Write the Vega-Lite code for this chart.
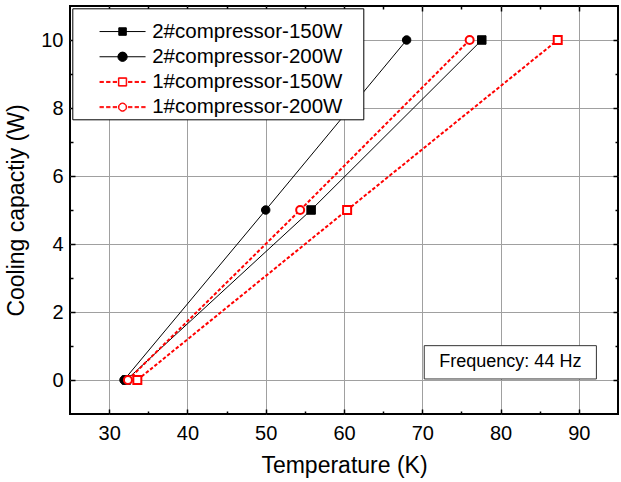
{
  "$schema": "https://vega.github.io/schema/vega-lite/v6.json",
  "width": 548,
  "height": 408,
  "autosize": {"type": "none"},
  "padding": {"left": 70, "top": 6, "right": 3, "bottom": 68},
  "config": {
    "font": "Liberation Sans",
    "view": {"stroke": "black", "strokeWidth": 2},
    "axis": {
      "labelFont": "Liberation Sans",
      "labelFontSize": 20,
      "labelColor": "black",
      "titleFont": "Liberation Sans",
      "titleFontSize": 23,
      "titleFontWeight": "normal",
      "titleColor": "black",
      "tickColor": "black",
      "tickWidth": 1.5,
      "domain": false,
      "gridColor": "#a0a0a0",
      "gridWidth": 1
    }
  },
  "datasets": {
    "pts": [
      {"series": "2#compressor-150W", "T": 32.2, "Q": 0},
      {"series": "2#compressor-150W", "T": 55.8, "Q": 5},
      {"series": "2#compressor-150W", "T": 77.6, "Q": 10},
      {"series": "2#compressor-200W", "T": 31.9, "Q": 0},
      {"series": "2#compressor-200W", "T": 50.0, "Q": 5},
      {"series": "2#compressor-200W", "T": 68.0, "Q": 10},
      {"series": "1#compressor-150W", "T": 33.6, "Q": 0},
      {"series": "1#compressor-150W", "T": 60.4, "Q": 5},
      {"series": "1#compressor-150W", "T": 87.3, "Q": 10},
      {"series": "1#compressor-200W", "T": 32.4, "Q": 0},
      {"series": "1#compressor-200W", "T": 54.4, "Q": 5},
      {"series": "1#compressor-200W", "T": 76.05, "Q": 10}
    ]
  },
  "data": {"name": "pts"},
  "layer": [
    {
      "transform": [{"filter": "indexof(datum.series, '2#') === 0"}],
      "mark": {"type": "line", "stroke": "black", "strokeWidth": 1},
      "encoding": {
        "x": {
          "field": "T", "type": "quantitative",
          "scale": {"domain": [25, 95], "nice": false, "zero": false},
          "axis": {
            "title": "Temperature (K)",
            "values": [30, 35, 40, 45, 50, 55, 60, 65, 70, 75, 80, 85, 90],
            "labelExpr": "datum.value % 10 === 0 ? datum.label : ''",
            "tickSize": {"condition": {"test": "datum.value % 10 === 0", "value": -5}, "value": -3},
            "grid": true,
            "gridOpacity": {"condition": {"test": "datum.value % 10 === 0", "value": 1}, "value": 0},
            "labelPadding": 14,
            "titlePadding": 11
          }
        },
        "y": {
          "field": "Q", "type": "quantitative",
          "scale": {"domain": [-1, 11], "nice": false, "zero": false},
          "axis": {
            "title": "Cooling capactiy (W)",
            "values": [0, 1, 2, 3, 4, 5, 6, 7, 8, 9, 10],
            "labelExpr": "datum.value % 2 === 0 ? datum.label : ''",
            "tickSize": {"condition": {"test": "datum.value % 2 === 0", "value": -5}, "value": -3},
            "grid": true,
            "gridOpacity": {"condition": {"test": "datum.value % 2 === 0", "value": 1}, "value": 0},
            "labelPadding": 12,
            "titlePadding": 12
          }
        },
        "detail": {"field": "series"}
      }
    },
    {
      "transform": [{"filter": "indexof(datum.series, '1#') === 0"}],
      "mark": {"type": "line", "stroke": "#ff0000", "strokeWidth": 2, "strokeDash": [3.5, 2]},
      "encoding": {
        "x": {"field": "T", "type": "quantitative", "axis": null},
        "y": {"field": "Q", "type": "quantitative", "axis": null},
        "detail": {"field": "series"}
      }
    },
    {
      "transform": [{"filter": "indexof(datum.series, '2#') === 0"}],
      "mark": {"type": "point", "filled": false, "size": 72, "opacity": 1, "fill": "black", "stroke": "black", "strokeWidth": 1},
      "encoding": {
        "x": {"field": "T", "type": "quantitative", "axis": null},
        "y": {"field": "Q", "type": "quantitative", "axis": null},
        "shape": {
          "field": "series", "type": "nominal", "legend": null,
          "scale": {"domain": ["2#compressor-150W", "2#compressor-200W", "1#compressor-150W", "1#compressor-200W"], "range": ["square", "circle", "square", "circle"]}
        }
      }
    },
    {
      "transform": [{"filter": "indexof(datum.series, '1#') === 0"}],
      "mark": {"type": "point", "filled": false, "size": 64, "opacity": 1, "fill": "white", "stroke": "#ff0000", "strokeWidth": 2},
      "encoding": {
        "x": {"field": "T", "type": "quantitative", "axis": null},
        "y": {"field": "Q", "type": "quantitative", "axis": null},
        "shape": {
          "field": "series", "type": "nominal", "legend": null,
          "scale": {"domain": ["2#compressor-150W", "2#compressor-200W", "1#compressor-150W", "1#compressor-200W"], "range": ["square", "circle", "square", "circle"]}
        }
      }
    },
    {
      "data": {"values": [{"label": "Frequency: 44 Hz"}]},
      "mark": {"type": "rect", "fill": "white", "stroke": "#333333", "strokeWidth": 1},
      "encoding": {
        "x": {"datum": 70.25, "type": "quantitative", "axis": null},
        "x2": {"datum": 92.24},
        "y": {"datum": 0.03, "type": "quantitative", "axis": null},
        "y2": {"datum": 1.01}
      }
    },
    {
      "data": {"values": [{"label": "Frequency: 44 Hz"}]},
      "mark": {"type": "text", "font": "Liberation Sans", "fontSize": 18, "color": "black", "align": "center", "baseline": "middle"},
      "encoding": {
        "x": {"datum": 81.25, "type": "quantitative", "axis": null},
        "y": {"datum": 0.52, "type": "quantitative", "axis": null},
        "text": {"field": "label"}
      }
    },
    {
      "transform": [{"filter": "false"}],
      "mark": {"type": "point", "filled": false, "opacity": 1},
      "encoding": {
        "x": {
          "field": "T", "type": "quantitative",
          "axis": {
            "orient": "top", "title": null, "labels": false, "grid": false,
            "values": [30, 35, 40, 45, 50, 55, 60, 65, 70, 75, 80, 85, 90],
            "tickSize": {"condition": {"test": "datum.value % 10 === 0", "value": -5}, "value": -3}
          }
        },
        "y": {
          "field": "Q", "type": "quantitative",
          "axis": {
            "orient": "right", "title": null, "labels": false, "grid": false,
            "values": [0, 1, 2, 3, 4, 5, 6, 7, 8, 9, 10],
            "tickSize": {"condition": {"test": "datum.value % 2 === 0", "value": -5}, "value": -3}
          }
        },
        "shape": {
          "field": "series", "type": "nominal",
          "scale": {
            "domain": ["2#compressor-150W", "2#compressor-200W", "1#compressor-150W", "1#compressor-200W"],
            "range": [
              "M47.45,0L47.45,0M-4.6,0H4.6M-0.75,-0.75H0.75V0.75H-0.75Z",
              "M-4.6,0H4.6M-0.93,0A0.93,0.93 0 1,0 0.93,0A0.93,0.93 0 1,0 -0.93,0Z",
              "M-4.6,-0.1H-3.74M-4.6,0.1H-3.74M-3.28,-0.1H-2.42M-3.28,0.1H-2.42M-1.96,-0.1H-1.1M-1.96,0.1H-1.1M1.1,-0.1H1.96M1.1,0.1H1.96M2.42,-0.1H3.28M2.42,0.1H3.28M3.74,-0.1H4.6M3.74,0.1H4.6M-0.83,-0.83H0.83V0.83H-0.83ZM-0.73,-0.73H0.73V0.73H-0.73Z",
              "M-4.6,-0.1H-3.74M-4.6,0.1H-3.74M-3.28,-0.1H-2.42M-3.28,0.1H-2.42M-1.96,-0.1H-1.1M-1.96,0.1H-1.1M1.1,-0.1H1.96M1.1,0.1H1.96M2.42,-0.1H3.28M2.42,0.1H3.28M3.74,-0.1H4.6M3.74,0.1H4.6M-0.83,0A0.83,0.83 0 1,0 0.83,0A0.83,0.83 0 1,0 -0.83,0ZM-0.73,0A0.73,0.73 0 1,0 0.73,0A0.73,0.73 0 1,0 -0.73,0Z"
            ]
          },
          "legend": {
            "title": " ",
            "titleFontSize": 8,
            "titlePadding": 4,
            "orient": "none",
            "legendX": 2.3,
            "legendY": 2.3,
            "padding": 1,
            "rowPadding": 4.2,
            "strokeColor": "black",
            "fillColor": "white",
            "labelFont": "Liberation Sans",
            "labelFontSize": 20.5,
            "labelColor": "black",
            "labelLimit": 400,
            "labelOffset": 19.4,
            "labelBaseline": "middle",
            "symbolOffset": 39,
            "symbolSize": 100,
            "symbolStrokeWidth": 1,
            "symbolOpacity": 1
          }
        },
        "stroke": {
          "field": "series", "type": "nominal",
          "scale": {"domain": ["2#compressor-150W", "2#compressor-200W", "1#compressor-150W", "1#compressor-200W"], "range": ["black", "black", "#ff0000", "#ff0000"]}
        },
        "fill": {
          "field": "series", "type": "nominal",
          "scale": {"domain": ["2#compressor-150W", "2#compressor-200W", "1#compressor-150W", "1#compressor-200W"], "range": ["black", "black", "white", "white"]}
        }
      }
    }
  ],
  "resolve": {
    "scale": {"shape": "independent", "stroke": "independent", "fill": "independent"},
    "axis": {"x": "independent", "y": "independent"},
    "legend": {"shape": "independent", "stroke": "independent", "fill": "independent"}
  }
}
